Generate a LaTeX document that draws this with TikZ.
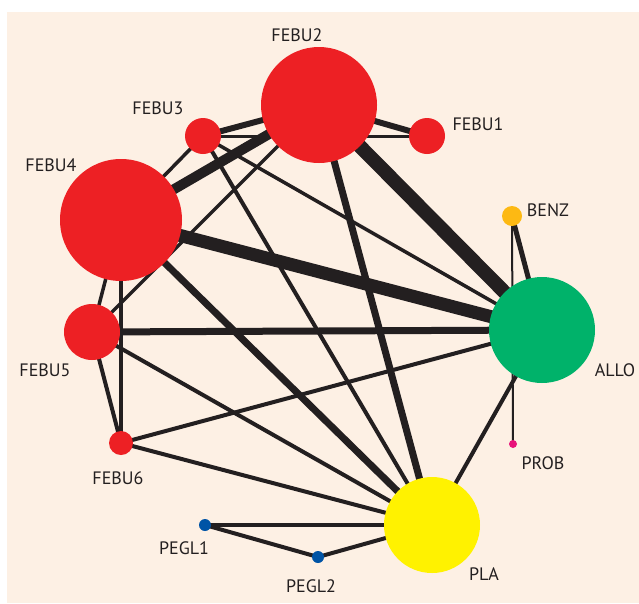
\documentclass[tikz,border=0pt]{standalone}
\usepackage{fontspec}
\setmainfont{PT Sans}
\definecolor{fundo}{RGB}{253,240,228}
\definecolor{vermelho}{RGB}{237,32,36}
\definecolor{verde}{RGB}{0,178,106}
\definecolor{amarelo}{RGB}{255,242,0}
\definecolor{laranja}{RGB}{253,185,19}
\definecolor{magenta}{RGB}{232,19,122}
\definecolor{azul}{RGB}{0,84,166}
\definecolor{tinta}{RGB}{35,31,32}
\pgfdeclarelayer{camadafundo}
\pgfdeclarelayer{arestas}
\pgfsetlayers{camadafundo,arestas,main}

\begin{document}
\begin{tikzpicture}[
    x=1pt, y=-1pt,
    % Nós da rede (tratamentos)
    trat/.style={
        circle,
        inner sep=0pt,
        draw=none
    },
    % Rótulos dos tratamentos
    rotulo/.style={
        font=\fontsize{18}{20}\selectfont,
        text=tinta,
        inner sep=0pt
    },
    linha/.style={draw=tinta, line width=#1}
]

\useasboundingbox (0,0) rectangle (639,603);
\begin{pgfonlayer}{camadafundo}
\fill[fundo] (7,12) rectangle (639,603);
\end{pgfonlayer}

% ---- TRATAMENTOS FEBU ----
\node[trat, fill=vermelho, minimum size=116pt] (febu2) at (319,105) {};
\node[trat, fill=vermelho, minimum size=36pt]  (febu1) at (427,136) {};
\node[trat, fill=vermelho, minimum size=36pt]  (febu3) at (203,136) {};
\node[trat, fill=vermelho, minimum size=122pt] (febu4) at (121,220) {};
\node[trat, fill=vermelho, minimum size=56pt]  (febu5) at (92,332) {};
\node[trat, fill=vermelho, minimum size=24pt]  (febu6) at (121,443) {};

% ---- DEMAIS TRATAMENTOS ----
\node[trat, fill=verde,   minimum size=106pt] (allo)  at (542,330) {};
\node[trat, fill=amarelo, minimum size=96pt]  (pla)   at (432,525) {};
\node[trat, fill=laranja, minimum size=20pt]  (benz)  at (512,216) {};
\node[trat, fill=magenta, minimum size=8pt]   (prob)  at (513,444) {};
\node[trat, fill=azul,    minimum size=12pt]  (pegl1) at (205,525) {};
\node[trat, fill=azul,    minimum size=12pt]  (pegl2) at (318,557) {};

% ---- RÓTULOS ----
\node[rotulo] (r_febu2) at (297,35)  {FEBU2};
\node[rotulo] (r_febu1) at (478,124) {FEBU1};
\node[rotulo] (r_febu3) at (158,108) {FEBU3};
\node[rotulo] (r_febu4) at (51,165)  {FEBU4};
\node[rotulo] (r_febu5) at (45,370)  {FEBU5};
\node[rotulo] (r_febu6) at (118,478) {FEBU6};
\node[rotulo] (r_allo)  at (615,370) {ALLO};
\node[rotulo] (r_pla)   at (484,574) {PLA};
\node[rotulo] (r_benz)  at (548,210) {BENZ};
\node[rotulo] (r_prob)  at (543,463) {PROB};
\node[rotulo] (r_pegl1) at (184,548) {PEGL1};
\node[rotulo] (r_pegl2) at (311,586) {PEGL2};

% ---- COMPARAÇÕES (ARESTAS) ----
\begin{pgfonlayer}{arestas}
\draw[linha=14] (febu2.center) -- (allo.center);
\draw[linha=13] (febu4.center) -- (allo.center);
\draw[linha=10] (febu2.center) -- (febu4.center);
\draw[linha=7]  (febu2.center) -- (pla.center);
\draw[linha=7]  (febu4.center) -- (pla.center);
\draw[linha=7]  (febu5.center) -- (allo.center);
\draw[linha=6]  (febu2.center) -- (febu1.center);
\draw[linha=6]  (febu2.center) -- (febu3.center);
\draw[linha=5]  (allo.center)  -- (benz.center);

\draw[linha=4]  (febu5.center) -- (pla.center);
\draw[linha=4]  (febu6.center) -- (allo.center);
\draw[linha=4]  (febu6.center) -- (pla.center);
\draw[linha=4]  (allo.center)  -- (pla.center);
\draw[linha=4]  (pegl1.center) -- (pla.center);
\draw[linha=4]  (pegl1.center) -- (pegl2.center);
\draw[linha=4]  (pegl2.center) -- (pla.center);
\draw[linha=4]  (febu5.center) -- (febu6.center);
\draw[linha=4]  (febu4.center) -- (febu6.center);
\draw[linha=4]  (febu3.center) -- (pla.center);

\draw[linha=3.5] (febu3.center) -- (allo.center);
\draw[linha=3.5] (febu3.center) -- (febu4.center);
\draw[linha=3.5] (febu2.center) -- (febu5.center);
\draw[linha=3.5] (febu4.center) -- (febu5.center);
\draw[linha=3]   (febu3.center) -- (febu1.center);
\draw[linha=2]   (benz.center)  -- (prob.center);
\end{pgfonlayer}

\end{tikzpicture}
\end{document}
